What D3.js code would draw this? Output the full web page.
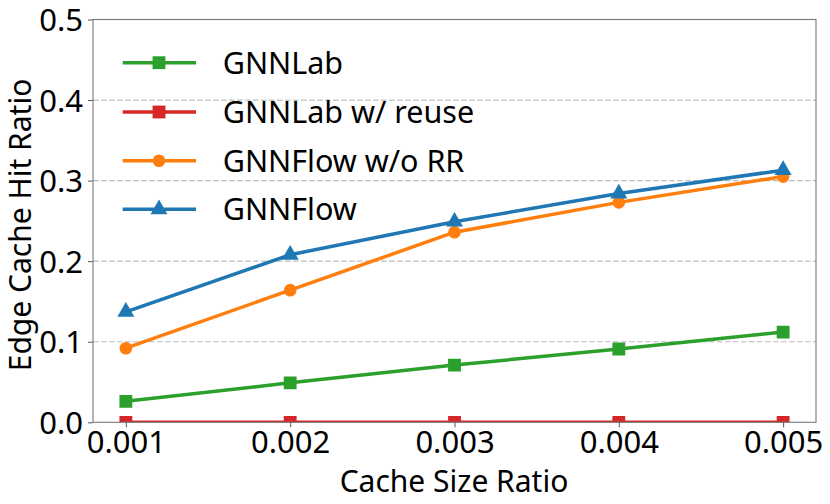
<!DOCTYPE html>
<html><head><meta charset="utf-8">
<script src="https://cdn.jsdelivr.net/npm/d3@7"></script>
<style>body{margin:0;background:#fff}svg{display:block}text{font-family:"Noto Sans",sans-serif;fill:#000}</style>
</head><body><svg id="c" width="830" height="504"></svg>
<script>
const cacheRatios = [0.001, 0.002, 0.003, 0.004, 0.005];
const xTickLabels = ["0.001", "0.002", "0.003", "0.004", "0.005"];
const yTicks = [0.0, 0.1, 0.2, 0.3, 0.4, 0.5];
const seriesNames = ["GNNLab", "GNNLab w/ reuse", "GNNFlow w/o RR", "GNNFlow"];
const gnnlab = [0.026, 0.049, 0.071, 0.091, 0.112];
const gnnlabReuse = [0, 0, 0, 0, 0];
const gnnflowNoRR = [0.092, 0.164, 0.236, 0.273, 0.305];
const gnnflow = [0.137, 0.208, 0.249, 0.284, 0.313];

const colors = ["#2ca02c", "#d62728", "#ff7f0e", "#1f77b4"];
const markers = ["square", "square", "circle", "triangle"];
const seriesValues = [gnnlab, gnnlabReuse, gnnflowNoRR, gnnflow];

const svg = d3.select("#c");
const L = 93, R = 816, T = 19.5, B = 422.3;
const x = d3.scaleLinear().domain([0.0008, 0.0052]).range([L, R]);
const y = d3.scaleLinear().domain([0, 0.5]).range([B, T]);

svg.append("defs").append("clipPath").attr("id", "clip")
  .append("rect").attr("x", L).attr("y", T).attr("width", R - L).attr("height", B - T);

// grid
svg.append("g").selectAll("line").data(yTicks.slice(1)).join("line")
  .attr("x1", L).attr("x2", R).attr("y1", d => y(d)).attr("y2", d => y(d))
  .attr("stroke", "#bdbdbd").attr("stroke-width", 1.2).attr("stroke-dasharray", "5.5,2.5");

function markerPath(type, size) {
  const sym = type === "square" ? d3.symbolSquare : type === "circle" ? d3.symbolCircle : d3.symbolTriangle;
  return d3.symbol().type(sym).size(size)();
}
const markerSize = {square: 165, circle: 125, triangle: 125};

const plot = svg.append("g").attr("clip-path", "url(#clip)");
seriesValues.forEach((vals, i) => {
  const pts = vals.map((v, j) => [cacheRatios[j], v]);
  plot.append("path").datum(pts)
    .attr("fill", "none").attr("stroke", colors[i]).attr("stroke-width", 3.5)
    .attr("stroke-linejoin", "round")
    .attr("d", d3.line().x(d => x(d[0])).y(d => y(d[1])));
  plot.append("g").selectAll("path").data(pts).join("path")
    .attr("transform", d => `translate(${x(d[0])},${y(d[1])})`)
    .attr("d", markerPath(markers[i], markerSize[markers[i]]))
    .attr("fill", colors[i]);
});

// axes
const xAxis = d3.axisBottom(x).tickValues(cacheRatios).tickFormat((d, i) => xTickLabels[i]).tickSize(5).tickPadding(3);
const gx = svg.append("g").attr("transform", `translate(0,${B})`).call(xAxis);
gx.select(".domain").remove();
gx.selectAll(".tick line").attr("stroke", "#555");
gx.selectAll(".tick text").style("font-size", "31px").attr("dy", "0.74em");

const yAxis = d3.axisLeft(y).tickValues(yTicks).tickFormat(d3.format(".1f")).tickSize(5).tickPadding(5);
const gy = svg.append("g").attr("transform", `translate(${L},0)`).call(yAxis);
gy.select(".domain").remove();
gy.selectAll(".tick line").attr("stroke", "#555");
gy.selectAll(".tick text").style("font-size", "31px").attr("dy", "0.36em");

svg.append("rect").attr("x", L).attr("y", T).attr("width", R - L).attr("height", B - T)
  .attr("fill", "none").attr("stroke", "#777").attr("stroke-width", 1.1);

// labels
svg.append("text").attr("x", 454).attr("y", 492).attr("text-anchor", "middle")
  .style("font-size", "30px").text("Cache Size Ratio");
svg.append("text").attr("transform", "translate(31,225) rotate(-90)").attr("text-anchor", "middle")
  .style("font-size", "30px").text("Edge Cache Hit Ratio");

// legend
const legendY = [62.7, 112, 160.7, 209.3];
const lg = svg.append("g");
seriesNames.forEach((name, i) => {
  const g = lg.append("g").attr("transform", `translate(0,${legendY[i]})`);
  g.append("line").attr("x1", 122.7).attr("x2", 196).attr("stroke", colors[i]).attr("stroke-width", 3.5);
  g.append("path").attr("transform", "translate(159,0)").attr("d", markerPath(markers[i], markerSize[markers[i]])).attr("fill", colors[i]);
  g.append("text").attr("x", 222.7).attr("dy", "0.36em").style("font-size", "30.5px").text(name);
});
</script></body></html>
